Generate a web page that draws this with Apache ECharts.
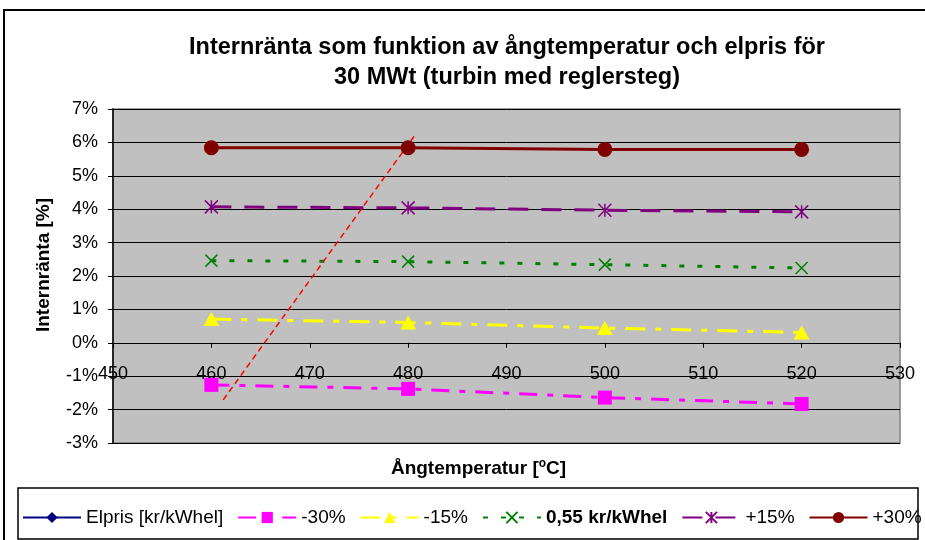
<!DOCTYPE html>
<html>
<head>
<meta charset="utf-8">
<script src="https://cdn.jsdelivr.net/npm/echarts@6/dist/echarts.min.js"></script>
<style>
html,body{margin:0;padding:0;background:#fff;}
#chart{width:925px;height:540px;}
</style>
</head>
<body>
<div id="chart"></div>
<script>
// ---- data ----
const temperatures = [460, 480, 500, 520];
const elpris = [];                              // legend only, no visible points
const minus30 = [-1.26, -1.38, -1.64, -1.83];
const minus15 = [0.71, 0.61, 0.44, 0.31];
const base055 = [2.46, 2.43, 2.34, 2.24];
const plus15 = [4.07, 4.04, 3.97, 3.92];
const plus30 = [5.84, 5.84, 5.79, 5.79];
const guideX = [461.2, 480.6];
const guideY = [-1.71, 6.18];
const yTicks = [-3, -2, -1, 0, 1, 2, 3, 4, 5, 6, 7];
const xTicks = [450, 460, 470, 480, 490, 500, 510, 520, 530];
const legendNames = ['Elpris [kr/kWhel]', '-30%', '-15%', '0,55 kr/kWhel', '+15%', '+30%'];

const FONT = '"Liberation Sans", Arial, sans-serif';
const pts = arr => arr.map((v, i) => [temperatures[i], v]);

const GRID_TOP = 109, GRID_BOTTOM_PX = 443;
const plotH = GRID_BOTTOM_PX - GRID_TOP;
const yMin = yTicks[0], yMax = yTicks[yTicks.length - 1];
// x axis crosses at y = 0: shift the axis up from the grid bottom
const zeroOffset = -plotH * (0 - yMin) / (yMax - yMin);

const chart = echarts.init(document.getElementById('chart'), null, {renderer: 'canvas'});

const xSym = 'path://M0,0L10,10M10,0L0,10';
const starSym = 'path://M5,0L5,10M0,0L10,10M10,0L0,10';

chart.setOption({
  animation: false,
  backgroundColor: '#ffffff',
  textStyle: {fontFamily: FONT},
  title: {
    text: 'Internränta som funktion av ångtemperatur och elpris för\n30 MWt (turbin med reglersteg)',
    left: 507,
    textAlign: 'center',
    top: 33,
    padding: 0,
    textStyle: {fontFamily: FONT, fontSize: 23.5, fontWeight: 'bold', color: '#000', lineHeight: 30}
  },
  graphic: [
    {type: 'rect', z: -10, shape: {x: 4, y: 10, width: 1000, height: 600},
     style: {fill: '#fff', stroke: '#000', lineWidth: 2}},
    {type: 'rect', z: -5, shape: {x: 18, y: 488, width: 900, height: 51},
     style: {fill: '#fff', stroke: '#000', lineWidth: 1.5}}
  ],
  legend: {
    data: [
      {name: legendNames[0]},
      {name: legendNames[1]},
      {name: legendNames[2]},
      {name: legendNames[3], textStyle: {fontWeight: 'bold'}},
      {name: legendNames[4]},
      {name: legendNames[5]}
    ],
    left: 22,
    top: 508,
    itemWidth: 58,
    itemHeight: 14,
    itemGap: 14,
    padding: 0,
    textStyle: {fontFamily: FONT, fontSize: 19, color: '#000'}
  },
  grid: {
    left: 113, right: 25, top: GRID_TOP, bottom: 540 - GRID_BOTTOM_PX,
    containLabel: false,
    outerBoundsMode: 'none',
    show: true, backgroundColor: '#C0C0C0', borderColor: '#808080', borderWidth: 1.5
  },
  xAxis: {
    type: 'value',
    position: 'bottom',
    offset: zeroOffset,
    min: xTicks[0], max: xTicks[xTicks.length - 1], interval: 10,
    axisLine: {onZero: false, lineStyle: {color: '#000', width: 1}},
    axisTick: {show: true, length: 5, lineStyle: {color: '#000'}},
    splitLine: {show: false},
    axisLabel: {fontFamily: FONT, fontSize: 18, color: '#000', margin: 22, showMinLabel: true, showMaxLabel: true},
    name: '{a|Ångtemperatur [}{s|o}{a|C]}',
    nameLocation: 'middle',
    nameGap: 115,
    nameTextStyle: {
      padding: [0, 56, 0, 0],
      rich: {
        a: {fontFamily: FONT, fontSize: 19, fontWeight: 'bold', color: '#000'},
        s: {fontFamily: FONT, fontSize: 12, fontWeight: 'bold', color: '#000', padding: [0, 0, 9, 0]}
      }
    }
  },
  yAxis: {
    type: 'value',
    min: yMin, max: yMax, interval: 1,
    axisLine: {show: true, onZero: false, lineStyle: {color: '#000', width: 1.5}},
    axisTick: {show: true, length: 5, lineStyle: {color: '#000'}},
    splitLine: {show: true, lineStyle: {color: '#000', width: 1}},
    axisLabel: {fontFamily: FONT, fontSize: 18, color: '#000', margin: 15, formatter: v => v + '%'},
    name: 'Internränta [%]',
    nameLocation: 'middle',
    nameRotate: 90,
    nameGap: 60,
    nameTextStyle: {fontFamily: FONT, fontSize: 19, fontWeight: 'bold', color: '#000', padding: [0, 0, 0, 22]}
  },
  series: [
    {name: legendNames[0], type: 'line', data: pts(elpris), symbol: 'diamond', symbolSize: 9,
     itemStyle: {color: '#000080'}, lineStyle: {color: '#000080', width: 1.5}},
    {name: legendNames[1], type: 'line', data: pts(minus30), symbol: 'rect', symbolSize: 14,
     itemStyle: {color: '#FF00FF'}, lineStyle: {color: '#FF00FF', width: 3, type: [18, 10, 6, 10]}},
    {name: legendNames[2], type: 'line', data: pts(minus15), symbol: 'triangle', symbolSize: [16, 14],
     itemStyle: {color: '#FFFF00'}, lineStyle: {color: '#FFFF00', width: 3, type: [20, 10, 6, 10]}},
    {name: legendNames[3], type: 'line', data: pts(base055), symbol: xSym, symbolSize: 12,
     itemStyle: {color: '#008000', borderColor: '#008000', borderWidth: 1.5},
     lineStyle: {color: '#008000', width: 3, type: [5, 13]}},
    {name: legendNames[4], type: 'line', data: pts(plus15), symbol: starSym, symbolSize: 13,
     itemStyle: {color: '#800080', borderColor: '#800080', borderWidth: 1.5},
     lineStyle: {color: '#800080', width: 3, type: [20, 13]}},
    {name: legendNames[5], type: 'line', data: pts(plus30), symbol: 'circle', symbolSize: 15,
     itemStyle: {color: '#800000'}, lineStyle: {color: '#800000', width: 3}},
    {name: 'guide', type: 'line', data: guideX.map((x, i) => [x, guideY[i]]), symbol: 'none',
     lineStyle: {color: '#FF0000', width: 1.5, type: [6, 4]}, z: 3}
  ]
});
</script>
</body>
</html>
